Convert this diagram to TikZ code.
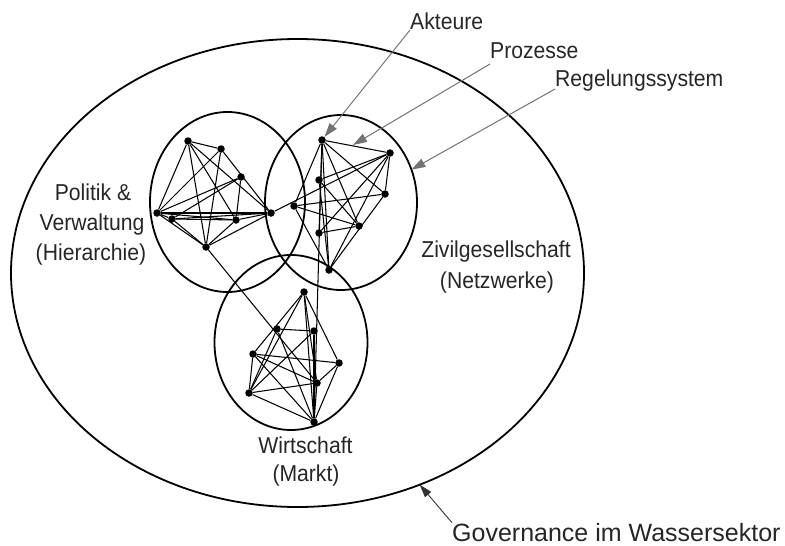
\documentclass[tikz,border=0pt]{standalone}
\usepackage{fontspec}
\setmainfont[FakeStretch=0.92]{Liberation Sans}
\newfontfamily\govfont{Liberation Sans}
\usetikzlibrary{shapes.geometric,arrows.meta}
\begin{document}
\begin{tikzpicture}[x=1pt,y=-1pt,
  ring/.style={draw, ellipse, line width=1.8pt, inner sep=0pt, outer sep=0pt},
  dot/.style={circle, fill, inner sep=0pt, minimum size=7.5pt},
  net/.style={line width=1.05pt},
  lab/.style={inner sep=0pt, text=black!85, font=\fontsize{23}{28}\selectfont},
  ptr/.style={draw=black!55, line width=1pt, -{Triangle[length=14pt,width=9pt]}},
  govptr/.style={draw=black!80, line width=0.9pt, -{Triangle[length=13pt,width=8pt]}}
]
\useasboundingbox (0,0) rectangle (785,546);

% rings
\node[ring, minimum width=573pt, minimum height=468pt] (world) at (297.5,273) {};
\node[ring, minimum width=155pt, minimum height=180pt] (pol) at (227.5,202) {};
\node[ring, minimum width=152pt, minimum height=175pt] (ziv) at (341,202.5) {};
\node[ring, minimum width=153pt, minimum height=175pt] (wir) at (291,342.5) {};

% left network
\node[dot] (a1) at (188,141) {};
\node[dot] (a2) at (221,149) {};
\node[dot] (a3) at (241,177) {};
\node[dot] (a4) at (157,213) {};
\node[dot] (a5) at (172,219) {};
\node[dot] (a6) at (236,220) {};
\node[dot] (a7) at (271,213) {};
\node[dot] (a8) at (206,247) {};

% middle network
\node[dot] (b1) at (322,140) {};
\node[dot] (b2) at (390,153) {};
\node[dot] (b3) at (319,180) {};
\node[dot] (b4) at (385,194) {};
\node[dot] (b5) at (294,206) {};
\node[dot] (b6) at (359,226) {};
\node[dot] (b7) at (319,233) {};
\node[dot] (b8) at (329,270) {};

% bottom network
\node[dot] (c1) at (304,292) {};
\node[dot] (c2) at (277,329) {};
\node[dot] (c3) at (314,331) {};
\node[dot] (c4) at (253,354) {};
\node[dot] (c5) at (339,363) {};
\node[dot] (c6) at (317,383) {};
\node[dot] (c7) at (249,393) {};
\node[dot] (c8) at (314,422) {};

\begin{scope}[net]
\foreach \u/\v in {a1/a2,a1/a4,a1/a6,a1/a7,a1/a8,a2/a4,a2/a8,a2/a7,a3/a4,a3/a5,a3/a6,
  a4/a7,a5/a7,a4/a6,a5/a6,a4/a8,a5/a8,a7/a8,a6/a8,a4/a5,a6/a7}
  \draw (\u) -- (\v);
\foreach \u/\v in {b1/b2,b1/b5,b1/b7,b1/b8,b1/b4,b1/b6,b2/b3,b2/b4,b2/b7,b2/b8,
  b5/b4,b3/b6,b5/b8,b7/b6,b4/b8,b3/b8,b5/b6}
  \draw (\u) -- (\v);
\foreach \u/\v in {c1/c4,c1/c7,c1/c8,c1/c6,c1/c5,c2/c3,c2/c8,c2/c7,c3/c7,c4/c5,
  c4/c7,c4/c8,c4/c6,c7/c6,c7/c8,c5/c6,c5/c8,c6/c8,c3/c8}
  \draw (\u) -- (\v);
% links between the sectors
\draw (a7) -- (b2);
\draw (a8) -- (c6);
\draw (b1) -- (c8);
\end{scope}

% labels
\node[lab, anchor=base] (pol1) at (93,200) {Politik \&};
\node[lab, anchor=base] (pol2) at (92,230) {Verwaltung};
\node[lab, anchor=base] (pol3) at (91,260) {(Hierarchie)};
\node[lab, anchor=base] (ziv1) at (496,257) {Zivilgesellschaft};
\node[lab, anchor=base] (ziv2) at (497,288) {(Netzwerke)};
\node[lab, anchor=base] (wir1) at (305.5,453) {Wirtschaft};
\node[lab, anchor=base] (wir2) at (306,481) {(Markt)};
\node[lab, anchor=base west] (akt) at (410,30) {Akteure};
\node[lab, anchor=base west] (proz) at (490,58) {Prozesse};
\node[lab, anchor=base west] (reg) at (555,86) {Regelungssystem};
\node[lab, anchor=base west, font=\govfont\fontsize{25}{30}\selectfont] (gov) at (452,541) {Governance im Wassersektor};

% pointers
\coordinate (prozT) at (353,145);
\draw[ptr] (akt.base west) -- (b1);
\draw[ptr] ([yshift=-6pt]proz.base west) -- (prozT);
\draw[ptr] ([yshift=-3pt]reg.base west) -- (ziv.25);
\draw[govptr] (gov.north west) -- (world.-60);
\end{tikzpicture}
\end{document}
